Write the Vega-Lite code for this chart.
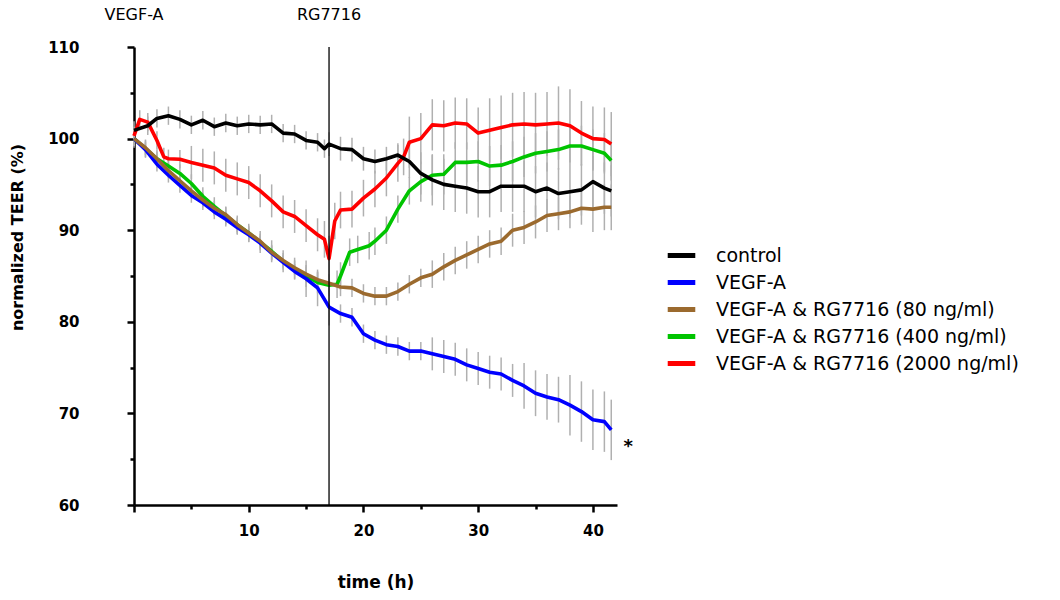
{
 "$schema": "https://vega.github.io/schema/vega-lite/v6.json",
 "width": 483,
 "height": 458,
 "autosize": {"type": "none"},
 "padding": {"left": 134, "top": 47, "right": 443, "bottom": 95},
 "background": "white",
 "config": {
  "view": {"stroke": null},
  "axis": {"grid": false, "domainColor": "black", "domainWidth": 2.5, "tickColor": "black", "tickWidth": 2.5, "labelColor": "black", "titleColor": "black", "labelFont": "DejaVu Sans", "labelFontWeight": "bold", "labelFontSize": 15, "titleFont": "DejaVu Sans", "titleFontWeight": "bold", "titleFontSize": 16}
 },
 "data": {"values": [
  {"s":"VEGF-A & RG7716 (2000 ng/ml)","t":0,"v":100.3,"e":1},
  {"s":"VEGF-A & RG7716 (2000 ng/ml)","t":0.5,"v":102.1,"e":1},
  {"s":"VEGF-A & RG7716 (2000 ng/ml)","t":1.2,"v":101.8,"e":1},
  {"s":"VEGF-A & RG7716 (2000 ng/ml)","t":2,"v":99.8,"e":1},
  {"s":"VEGF-A & RG7716 (2000 ng/ml)","t":2.6,"v":98.0,"e":1},
  {"s":"VEGF-A & RG7716 (2000 ng/ml)","t":3,"v":97.8,"e":1},
  {"s":"VEGF-A & RG7716 (2000 ng/ml)","t":4,"v":97.75,"e":1},
  {"s":"VEGF-A & RG7716 (2000 ng/ml)","t":5,"v":97.4,"e":1.8},
  {"s":"VEGF-A & RG7716 (2000 ng/ml)","t":6,"v":97.1,"e":1.8},
  {"s":"VEGF-A & RG7716 (2000 ng/ml)","t":7,"v":96.8,"e":1.8},
  {"s":"VEGF-A & RG7716 (2000 ng/ml)","t":8,"v":96.0,"e":1.8},
  {"s":"VEGF-A & RG7716 (2000 ng/ml)","t":9,"v":95.6,"e":1.8},
  {"s":"VEGF-A & RG7716 (2000 ng/ml)","t":10,"v":95.2,"e":1.8},
  {"s":"VEGF-A & RG7716 (2000 ng/ml)","t":11,"v":94.3,"e":1.8},
  {"s":"VEGF-A & RG7716 (2000 ng/ml)","t":12,"v":93.2,"e":1.8},
  {"s":"VEGF-A & RG7716 (2000 ng/ml)","t":13,"v":92.0,"e":1.8},
  {"s":"VEGF-A & RG7716 (2000 ng/ml)","t":14,"v":91.5,"e":1.8},
  {"s":"VEGF-A & RG7716 (2000 ng/ml)","t":15,"v":90.5,"e":1.8},
  {"s":"VEGF-A & RG7716 (2000 ng/ml)","t":16,"v":89.5,"e":1.8},
  {"s":"VEGF-A & RG7716 (2000 ng/ml)","t":16.6,"v":89.0,"e":2},
  {"s":"VEGF-A & RG7716 (2000 ng/ml)","t":17,"v":86.9,"e":2.5},
  {"s":"VEGF-A & RG7716 (2000 ng/ml)","t":17.5,"v":91.0,"e":2},
  {"s":"VEGF-A & RG7716 (2000 ng/ml)","t":18,"v":92.2,"e":2},
  {"s":"VEGF-A & RG7716 (2000 ng/ml)","t":19,"v":92.3,"e":2},
  {"s":"VEGF-A & RG7716 (2000 ng/ml)","t":20,"v":93.5,"e":2},
  {"s":"VEGF-A & RG7716 (2000 ng/ml)","t":21,"v":94.5,"e":2},
  {"s":"VEGF-A & RG7716 (2000 ng/ml)","t":22,"v":95.7,"e":2},
  {"s":"VEGF-A & RG7716 (2000 ng/ml)","t":23,"v":97.3,"e":2},
  {"s":"VEGF-A & RG7716 (2000 ng/ml)","t":23.5,"v":98.0,"e":2},
  {"s":"VEGF-A & RG7716 (2000 ng/ml)","t":24,"v":99.6,"e":2.8},
  {"s":"VEGF-A & RG7716 (2000 ng/ml)","t":25,"v":100.0,"e":2.8},
  {"s":"VEGF-A & RG7716 (2000 ng/ml)","t":26,"v":101.5,"e":2.8},
  {"s":"VEGF-A & RG7716 (2000 ng/ml)","t":27,"v":101.4,"e":2.8},
  {"s":"VEGF-A & RG7716 (2000 ng/ml)","t":28,"v":101.7,"e":2.8},
  {"s":"VEGF-A & RG7716 (2000 ng/ml)","t":29,"v":101.6,"e":2.8},
  {"s":"VEGF-A & RG7716 (2000 ng/ml)","t":30,"v":100.6,"e":2.8},
  {"s":"VEGF-A & RG7716 (2000 ng/ml)","t":31,"v":100.9,"e":3.5},
  {"s":"VEGF-A & RG7716 (2000 ng/ml)","t":32,"v":101.2,"e":3.5},
  {"s":"VEGF-A & RG7716 (2000 ng/ml)","t":33,"v":101.5,"e":3.5},
  {"s":"VEGF-A & RG7716 (2000 ng/ml)","t":34,"v":101.6,"e":3.5},
  {"s":"VEGF-A & RG7716 (2000 ng/ml)","t":35,"v":101.5,"e":3.5},
  {"s":"VEGF-A & RG7716 (2000 ng/ml)","t":36,"v":101.6,"e":3.5},
  {"s":"VEGF-A & RG7716 (2000 ng/ml)","t":37,"v":101.7,"e":4},
  {"s":"VEGF-A & RG7716 (2000 ng/ml)","t":38,"v":101.4,"e":4},
  {"s":"VEGF-A & RG7716 (2000 ng/ml)","t":39,"v":100.6,"e":3.5},
  {"s":"VEGF-A & RG7716 (2000 ng/ml)","t":40,"v":100.0,"e":3.5},
  {"s":"VEGF-A & RG7716 (2000 ng/ml)","t":41,"v":99.9,"e":3.5},
  {"s":"VEGF-A & RG7716 (2000 ng/ml)","t":41.6,"v":99.4,"e":3.5},
  {"s":"VEGF-A & RG7716 (400 ng/ml)","t":0,"v":100,"e":1},
  {"s":"VEGF-A & RG7716 (400 ng/ml)","t":1,"v":98.9,"e":1},
  {"s":"VEGF-A & RG7716 (400 ng/ml)","t":2,"v":97.8,"e":1},
  {"s":"VEGF-A & RG7716 (400 ng/ml)","t":3,"v":97.0,"e":1},
  {"s":"VEGF-A & RG7716 (400 ng/ml)","t":4,"v":96.2,"e":1},
  {"s":"VEGF-A & RG7716 (400 ng/ml)","t":5,"v":95.1,"e":1},
  {"s":"VEGF-A & RG7716 (400 ng/ml)","t":6,"v":93.7,"e":1},
  {"s":"VEGF-A & RG7716 (400 ng/ml)","t":7,"v":92.6,"e":1},
  {"s":"VEGF-A & RG7716 (400 ng/ml)","t":8,"v":91.6,"e":1},
  {"s":"VEGF-A & RG7716 (400 ng/ml)","t":9,"v":90.6,"e":1},
  {"s":"VEGF-A & RG7716 (400 ng/ml)","t":10,"v":89.7,"e":1},
  {"s":"VEGF-A & RG7716 (400 ng/ml)","t":11,"v":88.7,"e":1.2},
  {"s":"VEGF-A & RG7716 (400 ng/ml)","t":12,"v":87.7,"e":1.2},
  {"s":"VEGF-A & RG7716 (400 ng/ml)","t":13,"v":86.6,"e":1.2},
  {"s":"VEGF-A & RG7716 (400 ng/ml)","t":14,"v":85.8,"e":1.2},
  {"s":"VEGF-A & RG7716 (400 ng/ml)","t":15,"v":85.0,"e":1.2},
  {"s":"VEGF-A & RG7716 (400 ng/ml)","t":16,"v":84.3,"e":1.2},
  {"s":"VEGF-A & RG7716 (400 ng/ml)","t":17,"v":84.0,"e":1.2},
  {"s":"VEGF-A & RG7716 (400 ng/ml)","t":17.7,"v":84.1,"e":1.5},
  {"s":"VEGF-A & RG7716 (400 ng/ml)","t":18,"v":85.0,"e":1.5},
  {"s":"VEGF-A & RG7716 (400 ng/ml)","t":18.8,"v":87.6,"e":1.5},
  {"s":"VEGF-A & RG7716 (400 ng/ml)","t":19.5,"v":87.9,"e":1.5},
  {"s":"VEGF-A & RG7716 (400 ng/ml)","t":20.5,"v":88.3,"e":1.5},
  {"s":"VEGF-A & RG7716 (400 ng/ml)","t":21,"v":88.8,"e":1.5},
  {"s":"VEGF-A & RG7716 (400 ng/ml)","t":22,"v":90.0,"e":1.5},
  {"s":"VEGF-A & RG7716 (400 ng/ml)","t":23,"v":92.3,"e":1.5},
  {"s":"VEGF-A & RG7716 (400 ng/ml)","t":24,"v":94.3,"e":1.5},
  {"s":"VEGF-A & RG7716 (400 ng/ml)","t":25,"v":95.3,"e":2.2},
  {"s":"VEGF-A & RG7716 (400 ng/ml)","t":26,"v":96.0,"e":2.2},
  {"s":"VEGF-A & RG7716 (400 ng/ml)","t":27,"v":96.1,"e":2.2},
  {"s":"VEGF-A & RG7716 (400 ng/ml)","t":28,"v":97.4,"e":2.2},
  {"s":"VEGF-A & RG7716 (400 ng/ml)","t":29,"v":97.4,"e":2.2},
  {"s":"VEGF-A & RG7716 (400 ng/ml)","t":30,"v":97.5,"e":2.2},
  {"s":"VEGF-A & RG7716 (400 ng/ml)","t":31,"v":97.0,"e":2.2},
  {"s":"VEGF-A & RG7716 (400 ng/ml)","t":32,"v":97.1,"e":2.2},
  {"s":"VEGF-A & RG7716 (400 ng/ml)","t":33,"v":97.5,"e":2.2},
  {"s":"VEGF-A & RG7716 (400 ng/ml)","t":34,"v":98.0,"e":2.2},
  {"s":"VEGF-A & RG7716 (400 ng/ml)","t":35,"v":98.4,"e":2.2},
  {"s":"VEGF-A & RG7716 (400 ng/ml)","t":36,"v":98.6,"e":2.2},
  {"s":"VEGF-A & RG7716 (400 ng/ml)","t":37,"v":98.8,"e":2.2},
  {"s":"VEGF-A & RG7716 (400 ng/ml)","t":38,"v":99.2,"e":2.2},
  {"s":"VEGF-A & RG7716 (400 ng/ml)","t":39,"v":99.2,"e":2.2},
  {"s":"VEGF-A & RG7716 (400 ng/ml)","t":40,"v":98.8,"e":2.2},
  {"s":"VEGF-A & RG7716 (400 ng/ml)","t":41,"v":98.4,"e":2.2},
  {"s":"VEGF-A & RG7716 (400 ng/ml)","t":41.6,"v":97.6,"e":2.2},
  {"s":"VEGF-A","t":0,"v":100,"e":0.8},
  {"s":"VEGF-A","t":1,"v":98.8,"e":0.8},
  {"s":"VEGF-A","t":2,"v":97.2,"e":0.8},
  {"s":"VEGF-A","t":3,"v":96.0,"e":0.8},
  {"s":"VEGF-A","t":4,"v":94.9,"e":0.8},
  {"s":"VEGF-A","t":5,"v":93.8,"e":0.8},
  {"s":"VEGF-A","t":6,"v":93.0,"e":0.8},
  {"s":"VEGF-A","t":7,"v":92.0,"e":0.8},
  {"s":"VEGF-A","t":8,"v":91.2,"e":0.8},
  {"s":"VEGF-A","t":9,"v":90.3,"e":0.8},
  {"s":"VEGF-A","t":10,"v":89.5,"e":0.8},
  {"s":"VEGF-A","t":11,"v":88.6,"e":0.8},
  {"s":"VEGF-A","t":12,"v":87.5,"e":0.8},
  {"s":"VEGF-A","t":13,"v":86.5,"e":0.8},
  {"s":"VEGF-A","t":14,"v":85.5,"e":0.8},
  {"s":"VEGF-A","t":15,"v":84.7,"e":2},
  {"s":"VEGF-A","t":16,"v":83.7,"e":2},
  {"s":"VEGF-A","t":17,"v":81.6,"e":2},
  {"s":"VEGF-A","t":18,"v":80.9,"e":1},
  {"s":"VEGF-A","t":19,"v":80.5,"e":1},
  {"s":"VEGF-A","t":20,"v":78.7,"e":1},
  {"s":"VEGF-A","t":21,"v":78.0,"e":1},
  {"s":"VEGF-A","t":22,"v":77.5,"e":1},
  {"s":"VEGF-A","t":23,"v":77.3,"e":1},
  {"s":"VEGF-A","t":24,"v":76.8,"e":1},
  {"s":"VEGF-A","t":25,"v":76.8,"e":1},
  {"s":"VEGF-A","t":26,"v":76.5,"e":1.8},
  {"s":"VEGF-A","t":27,"v":76.2,"e":1.8},
  {"s":"VEGF-A","t":28,"v":75.9,"e":1.8},
  {"s":"VEGF-A","t":29,"v":75.3,"e":1.8},
  {"s":"VEGF-A","t":30,"v":74.9,"e":1.8},
  {"s":"VEGF-A","t":31,"v":74.5,"e":1.8},
  {"s":"VEGF-A","t":32,"v":74.3,"e":1.8},
  {"s":"VEGF-A","t":33,"v":73.6,"e":1.8},
  {"s":"VEGF-A","t":34,"v":73.0,"e":2.5},
  {"s":"VEGF-A","t":35,"v":72.2,"e":2.5},
  {"s":"VEGF-A","t":36,"v":71.8,"e":2.5},
  {"s":"VEGF-A","t":37,"v":71.5,"e":2.5},
  {"s":"VEGF-A","t":38,"v":70.9,"e":3.3},
  {"s":"VEGF-A","t":39,"v":70.2,"e":3.3},
  {"s":"VEGF-A","t":40,"v":69.3,"e":3.3},
  {"s":"VEGF-A","t":41,"v":69.1,"e":3.3},
  {"s":"VEGF-A","t":41.6,"v":68.2,"e":3.3},
  {"s":"VEGF-A & RG7716 (80 ng/ml)","t":0,"v":100,"e":0.8},
  {"s":"VEGF-A & RG7716 (80 ng/ml)","t":1,"v":99.0,"e":0.8},
  {"s":"VEGF-A & RG7716 (80 ng/ml)","t":2,"v":97.8,"e":0.8},
  {"s":"VEGF-A & RG7716 (80 ng/ml)","t":3,"v":96.5,"e":0.8},
  {"s":"VEGF-A & RG7716 (80 ng/ml)","t":4,"v":95.4,"e":0.8},
  {"s":"VEGF-A & RG7716 (80 ng/ml)","t":5,"v":94.3,"e":0.8},
  {"s":"VEGF-A & RG7716 (80 ng/ml)","t":6,"v":93.3,"e":0.8},
  {"s":"VEGF-A & RG7716 (80 ng/ml)","t":7,"v":92.4,"e":0.8},
  {"s":"VEGF-A & RG7716 (80 ng/ml)","t":8,"v":91.7,"e":0.8},
  {"s":"VEGF-A & RG7716 (80 ng/ml)","t":9,"v":90.6,"e":0.8},
  {"s":"VEGF-A & RG7716 (80 ng/ml)","t":10,"v":89.7,"e":0.8},
  {"s":"VEGF-A & RG7716 (80 ng/ml)","t":11,"v":88.8,"e":0.8},
  {"s":"VEGF-A & RG7716 (80 ng/ml)","t":12,"v":87.6,"e":0.8},
  {"s":"VEGF-A & RG7716 (80 ng/ml)","t":13,"v":86.7,"e":0.8},
  {"s":"VEGF-A & RG7716 (80 ng/ml)","t":14,"v":85.9,"e":0.8},
  {"s":"VEGF-A & RG7716 (80 ng/ml)","t":15,"v":85.2,"e":0.8},
  {"s":"VEGF-A & RG7716 (80 ng/ml)","t":16,"v":84.6,"e":0.8},
  {"s":"VEGF-A & RG7716 (80 ng/ml)","t":17,"v":84.2,"e":1},
  {"s":"VEGF-A & RG7716 (80 ng/ml)","t":18,"v":83.8,"e":1},
  {"s":"VEGF-A & RG7716 (80 ng/ml)","t":19,"v":83.7,"e":1},
  {"s":"VEGF-A & RG7716 (80 ng/ml)","t":20,"v":83.1,"e":1},
  {"s":"VEGF-A & RG7716 (80 ng/ml)","t":21,"v":82.8,"e":1},
  {"s":"VEGF-A & RG7716 (80 ng/ml)","t":22,"v":82.8,"e":1},
  {"s":"VEGF-A & RG7716 (80 ng/ml)","t":23,"v":83.3,"e":1},
  {"s":"VEGF-A & RG7716 (80 ng/ml)","t":24,"v":84.1,"e":1},
  {"s":"VEGF-A & RG7716 (80 ng/ml)","t":25,"v":84.8,"e":1},
  {"s":"VEGF-A & RG7716 (80 ng/ml)","t":26,"v":85.2,"e":1.5},
  {"s":"VEGF-A & RG7716 (80 ng/ml)","t":27,"v":86.0,"e":1.5},
  {"s":"VEGF-A & RG7716 (80 ng/ml)","t":28,"v":86.7,"e":1.5},
  {"s":"VEGF-A & RG7716 (80 ng/ml)","t":29,"v":87.3,"e":1.5},
  {"s":"VEGF-A & RG7716 (80 ng/ml)","t":30,"v":87.9,"e":1.5},
  {"s":"VEGF-A & RG7716 (80 ng/ml)","t":31,"v":88.5,"e":1.5},
  {"s":"VEGF-A & RG7716 (80 ng/ml)","t":32,"v":88.8,"e":1.5},
  {"s":"VEGF-A & RG7716 (80 ng/ml)","t":33,"v":90.0,"e":1.8},
  {"s":"VEGF-A & RG7716 (80 ng/ml)","t":34,"v":90.3,"e":1.8},
  {"s":"VEGF-A & RG7716 (80 ng/ml)","t":35,"v":90.9,"e":1.8},
  {"s":"VEGF-A & RG7716 (80 ng/ml)","t":36,"v":91.6,"e":1.8},
  {"s":"VEGF-A & RG7716 (80 ng/ml)","t":37,"v":91.8,"e":1.8},
  {"s":"VEGF-A & RG7716 (80 ng/ml)","t":38,"v":92.0,"e":1.8},
  {"s":"VEGF-A & RG7716 (80 ng/ml)","t":39,"v":92.4,"e":1.8},
  {"s":"VEGF-A & RG7716 (80 ng/ml)","t":40,"v":92.3,"e":2.5},
  {"s":"VEGF-A & RG7716 (80 ng/ml)","t":41,"v":92.5,"e":2.5},
  {"s":"VEGF-A & RG7716 (80 ng/ml)","t":41.6,"v":92.5,"e":2.5},
  {"s":"control","t":0,"v":100.9,"e":1},
  {"s":"control","t":1.2,"v":101.4,"e":1},
  {"s":"control","t":2,"v":102.2,"e":1},
  {"s":"control","t":3,"v":102.5,"e":1},
  {"s":"control","t":4,"v":102.1,"e":1},
  {"s":"control","t":5,"v":101.5,"e":1},
  {"s":"control","t":6,"v":102.0,"e":1},
  {"s":"control","t":7,"v":101.3,"e":1},
  {"s":"control","t":8,"v":101.7,"e":1},
  {"s":"control","t":9,"v":101.4,"e":1},
  {"s":"control","t":10,"v":101.6,"e":1},
  {"s":"control","t":11,"v":101.5,"e":1},
  {"s":"control","t":12,"v":101.6,"e":1},
  {"s":"control","t":13,"v":100.6,"e":1},
  {"s":"control","t":14,"v":100.5,"e":1},
  {"s":"control","t":15,"v":99.8,"e":1},
  {"s":"control","t":16,"v":99.6,"e":1},
  {"s":"control","t":16.6,"v":98.9,"e":1},
  {"s":"control","t":17,"v":99.4,"e":1.3},
  {"s":"control","t":18,"v":98.9,"e":1.3},
  {"s":"control","t":19,"v":98.8,"e":1.3},
  {"s":"control","t":20,"v":97.8,"e":1.3},
  {"s":"control","t":21,"v":97.5,"e":1.3},
  {"s":"control","t":22,"v":97.8,"e":1.3},
  {"s":"control","t":23,"v":98.2,"e":1.3},
  {"s":"control","t":24,"v":97.5,"e":1.8},
  {"s":"control","t":25,"v":96.2,"e":2.3},
  {"s":"control","t":26,"v":95.5,"e":2.8},
  {"s":"control","t":27,"v":95.0,"e":2.8},
  {"s":"control","t":28,"v":94.8,"e":2.8},
  {"s":"control","t":29,"v":94.6,"e":2.8},
  {"s":"control","t":30,"v":94.2,"e":2.8},
  {"s":"control","t":31,"v":94.2,"e":2.8},
  {"s":"control","t":32,"v":94.8,"e":2.8},
  {"s":"control","t":33,"v":94.8,"e":2.8},
  {"s":"control","t":34,"v":94.8,"e":2.8},
  {"s":"control","t":35,"v":94.2,"e":2.8},
  {"s":"control","t":36,"v":94.6,"e":2.8},
  {"s":"control","t":37,"v":94.0,"e":2.8},
  {"s":"control","t":38,"v":94.2,"e":2.8},
  {"s":"control","t":39,"v":94.4,"e":2.8},
  {"s":"control","t":40,"v":95.3,"e":2.8},
  {"s":"control","t":41,"v":94.6,"e":2.8},
  {"s":"control","t":41.6,"v":94.3,"e":2.8}
 ]},
 "layer": [
  {
   "mark": {"type": "errorbar", "color": "#b0b0b0", "thickness": 1.5},
   "encoding": {
    "x": {"field": "t", "type": "quantitative", "scale": {"domain": [0, 42.1], "nice": false, "zero": false},
     "axis": {"title": "time (h)", "values": [0,5,10,15,20,25,30,35,40], "labelExpr": "datum.value % 10 === 0 && datum.value > 0 ? datum.label : ''", "tickSize": {"condition": {"test": "datum.value % 10 !== 0", "value": 4}, "value": 7}, "labelPadding": 11, "titlePadding": 36, "titleFontSize": 17}},
    "y": {"field": "v", "type": "quantitative", "scale": {"domain": [60, 110], "nice": false, "zero": false},
     "axis": {"title": "normalized TEER (%)", "values": [60,65,70,75,80,85,90,95,100,105,110], "labelExpr": "datum.value % 10 === 0 ? datum.label : ''", "tickSize": {"condition": {"test": "datum.value % 10 !== 0", "value": 4}, "value": 7}, "labelPadding": 48, "titleX": -117, "titleY": 190, "titleAlign": "center", "titleBaseline": "middle", "titleAngle": -90}},
    "yError": {"field": "e"},
    "detail": {"field": "s"}
   }
  },
  {
   "mark": {"type": "line", "strokeWidth": 3.6, "strokeJoin": "round"},
   "encoding": {
    "x": {"field": "t", "type": "quantitative", "scale": {"domain": [0, 42.1], "nice": false, "zero": false}},
    "y": {"field": "v", "type": "quantitative", "scale": {"domain": [60, 110], "nice": false, "zero": false}},
    "color": {"field": "s", "type": "nominal",
     "scale": {"domain": ["control", "VEGF-A", "VEGF-A & RG7716 (80 ng/ml)", "VEGF-A & RG7716 (400 ng/ml)", "VEGF-A & RG7716 (2000 ng/ml)"], "range": ["#000000", "#0000ff", "#9b6a2e", "#00c400", "#ff0000"]},
     "legend": {"title": null, "orient": "none", "legendX": 531, "legendY": 192, "symbolType": "stroke", "symbolSize": 760, "symbolStrokeWidth": 5, "labelFont": "DejaVu Sans", "labelFontSize": 19, "labelColor": "black", "labelOffset": 18, "rowPadding": 0, "padding": 0, "labelLimit": 420}}
   }
  },
  {
   "data": {"values": [{"t": 17}]},
   "mark": {"type": "rule", "color": "black", "strokeWidth": 1.3},
   "encoding": {"x": {"field": "t", "type": "quantitative", "scale": {"domain": [0, 42.1], "nice": false, "zero": false}}}
  },
  {
   "data": {"values": [{"t": 0, "v": 113.46, "label": "VEGF-A"}, {"t": 17, "v": 113.46, "label": "RG7716"}]},
   "mark": {"type": "text", "font": "DejaVu Sans", "fontSize": 16, "baseline": "middle", "align": "center", "color": "black"},
   "encoding": {
    "x": {"field": "t", "type": "quantitative", "scale": {"domain": [0, 42.1], "nice": false, "zero": false}},
    "y": {"field": "v", "type": "quantitative", "scale": {"domain": [60, 110], "nice": false, "zero": false}},
    "text": {"field": "label"}
   }
  },
  {
   "data": {"values": [{"t": 43.07, "v": 65.8, "label": "*"}]},
   "mark": {"type": "text", "font": "DejaVu Sans", "fontSize": 18, "fontWeight": "bold", "baseline": "alphabetic", "align": "center", "color": "black"},
   "encoding": {
    "x": {"field": "t", "type": "quantitative", "scale": {"domain": [0, 42.1], "nice": false, "zero": false}},
    "y": {"field": "v", "type": "quantitative", "scale": {"domain": [60, 110], "nice": false, "zero": false}},
    "text": {"field": "label"}
   }
  }
 ]
}
